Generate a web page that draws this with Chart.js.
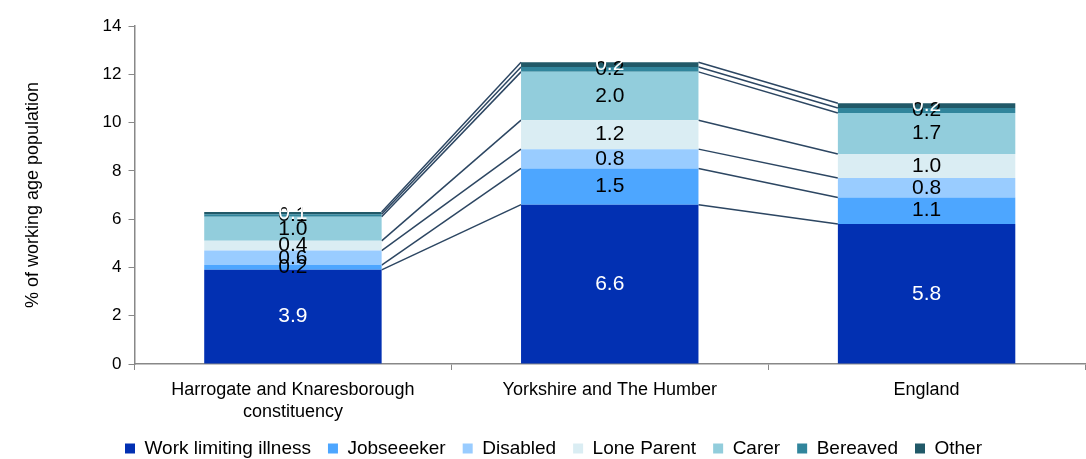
<!DOCTYPE html>
<html>
<head>
<meta charset="utf-8">
<script src="https://cdn.jsdelivr.net/npm/chart.js@4"></script>
<style>
  html,body{margin:0;padding:0;background:#fff;}
  #wrap{width:1086px;height:459px;position:relative;}
</style>
</head>
<body>
<div id="wrap"><canvas id="c"></canvas></div>
<script>
const categories=[['Harrogate and Knaresborough','constituency'],'Yorkshire and The Humber','England'];
const seriesNames=['Work limiting illness','Jobseeeker','Disabled','Lone Parent','Carer','Bereaved','Other'];
const workLimiting=[3.9,6.6,5.8];
const jobseeker=[0.2,1.5,1.1];
const disabled=[0.6,0.8,0.8];
const loneParent=[0.4,1.2,1.0];
const carer=[1.0,2.0,1.7];
const bereaved=[0.1,0.2,0.2];
const other=[0.1,0.2,0.2];
const yTicks=[0,2,4,6,8,10,12,14];

const colors=['#0230b2','#4da6ff','#99ccff','#daedf3','#92cddc','#31859c','#215968'];
const labelColors=['#fff','#000','#000','#000','#000','#000','#fff'];
const values=[workLimiting,jobseeker,disabled,loneParent,carer,bereaved,other];
const FONT='"Liberation Sans", Arial, sans-serif';

// series lines joining stacked segments, like Excel
const seriesLines={id:'seriesLines',
  beforeDatasetsDraw(chart){
    const {ctx}=chart;
    ctx.save();ctx.strokeStyle='#2c4662';ctx.lineWidth=1.5;
    chart.data.datasets.forEach((ds,i)=>{
      const els=chart.getDatasetMeta(i).data;
      for(let j=0;j<els.length-1;j++){
        const a=els[j],b=els[j+1];
        ctx.beginPath();
        ctx.moveTo(a.x+a.width/2,a.y);
        ctx.lineTo(b.x-b.width/2,b.y);
        ctx.stroke();
      }
    });
    ctx.restore();
  }};

const segLabels={id:'segLabels',
  afterDatasetsDraw(chart){
    const {ctx}=chart;
    ctx.save();ctx.font='21px '+FONT;ctx.textAlign='center';ctx.textBaseline='middle';
    chart.data.datasets.forEach((ds,i)=>{
      ctx.fillStyle=labelColors[i];
      chart.getDatasetMeta(i).data.forEach((el,j)=>{
        ctx.fillText(ds.data[j].toFixed(1),el.x,(el.y+el.base)/2);
      });
    });
    ctx.restore();
  }};

new Chart(document.getElementById('c'),{type:'bar',
  data:{labels:categories,
    datasets:seriesNames.map((n,i)=>({label:n,data:values[i],backgroundColor:colors[i],borderWidth:0,
      categoryPercentage:1,barPercentage:0.56}))},
  options:{responsive:true,maintainAspectRatio:false,animation:false,
    layout:{padding:{top:26,right:1,left:22,bottom:-9}},
    plugins:{legend:{position:'bottom',
        labels:{font:{size:19,family:FONT},color:'#000',boxWidth:10,boxHeight:10,padding:17}},
      tooltip:{enabled:false}},
    scales:{
      x:{stacked:true,grid:{drawOnChartArea:false,color:'#888',tickLength:6},border:{color:'#888',width:1.5},
        ticks:{color:'#000',font:{size:18,family:FONT,lineHeight:1.17},padding:10,maxRotation:0},
        afterFit:s=>{s.height=58;}},
      y:{stacked:true,min:0,max:14,
        afterBuildTicks:ax=>{ax.ticks=yTicks.map(v=>({value:v}));},
        grid:{drawOnChartArea:false,color:'#888',tickLength:6},border:{color:'#888',width:1.5},
        ticks:{color:'#000',font:{size:17,family:FONT},padding:7},
        title:{display:true,text:'% of working age population',color:'#000',font:{size:18,family:FONT},padding:{top:0,bottom:52}}}}},
  plugins:[seriesLines,segLabels]
});
</script>
</body>
</html>
